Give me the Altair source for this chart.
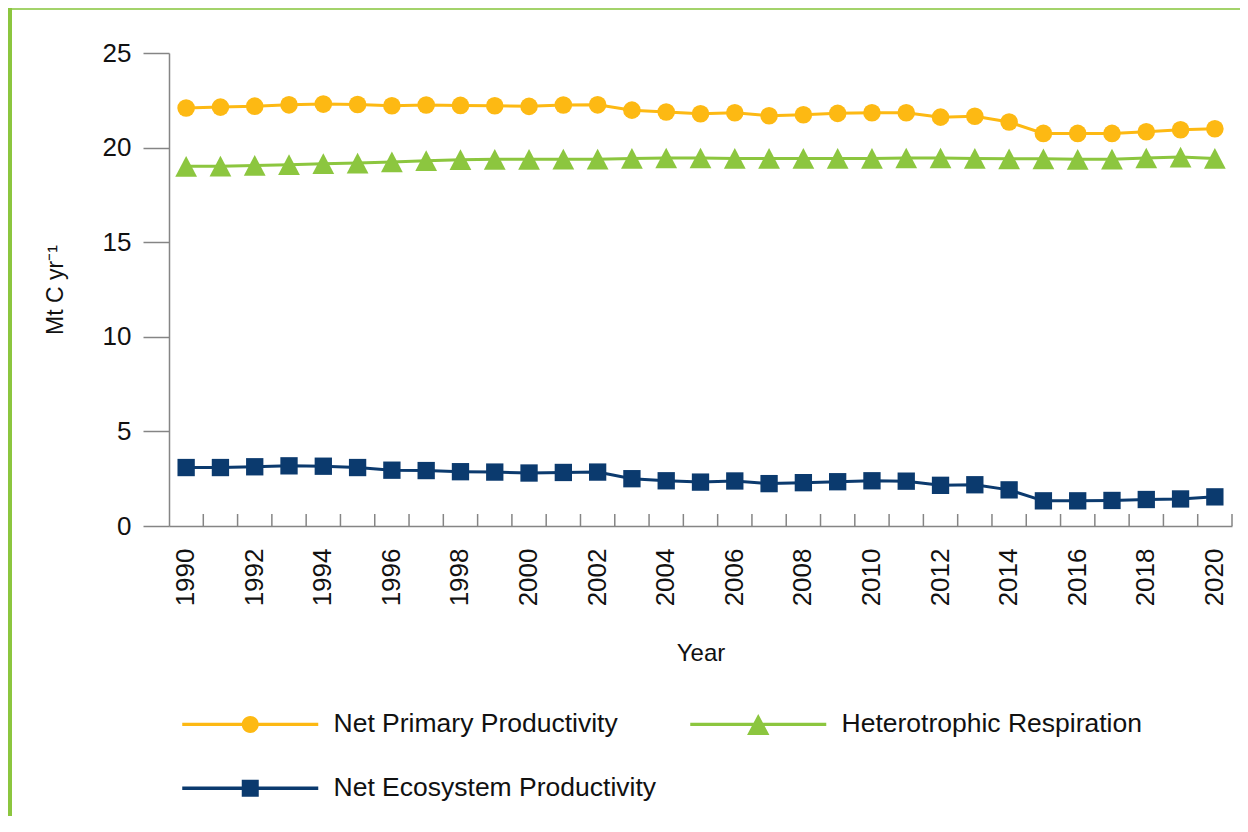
import altair as alt
import pandas as pd

years = list(range(1990, 2021))
series = ["Net Primary Productivity", "Heterotrophic Respiration", "Net Ecosystem Productivity"]
colors = ["#FDB913", "#8CC63F", "#0B3A6E"]
shapes = ["circle", "M0,-1L1.05,1H-1.05Z", "square"]
marker_sizes = [310, 430, 300]

npp = [22.09, 22.14, 22.19, 22.26, 22.30, 22.28, 22.21, 22.25, 22.23, 22.21, 22.18,
       22.25, 22.26, 21.98, 21.88, 21.79, 21.84, 21.68, 21.74, 21.81, 21.84, 21.84,
       21.61, 21.66, 21.35, 20.75, 20.75, 20.75, 20.84, 20.94, 21.00]
hr = [19.01, 19.02, 19.06, 19.10, 19.15, 19.18, 19.24, 19.31, 19.36, 19.38, 19.38,
      19.39, 19.39, 19.43, 19.45, 19.45, 19.43, 19.43, 19.43, 19.43, 19.43, 19.45,
      19.45, 19.43, 19.41, 19.41, 19.38, 19.39, 19.45, 19.50, 19.43]
nep = [3.09, 3.09, 3.13, 3.18, 3.16, 3.09, 2.95, 2.93, 2.87, 2.85, 2.80,
       2.83, 2.85, 2.50, 2.39, 2.32, 2.38, 2.24, 2.29, 2.34, 2.39, 2.37,
       2.15, 2.18, 1.91, 1.33, 1.33, 1.35, 1.40, 1.43, 1.54]
y_ticks = [0, 5, 10, 15, 20, 25]
x_label_years = [y for y in years if y % 2 == 0]

rows = []
for name, vals in zip(series, [npp, hr, nep]):
    for yr, v in zip(years, vals):
        rows.append({"Year": yr, "Series": name, "Value": v})
df = pd.DataFrame(rows)

W, H = 1063, 473
AXIS_GRAY = "#858585"
FONT = "Liberation Sans"

color_scale = alt.Scale(domain=series, range=colors)

x_enc = alt.X("Year:O", bandPosition=0.5,
              scale=alt.Scale(type="band", paddingInner=0, paddingOuter=0),
              axis=alt.Axis(values=x_label_years, labelAngle=-90, ticks=False,
                            labelPadding=22, labelFontSize=26, title="Year",
                            titleFontSize=24, titleFontWeight="normal", titlePadding=36,
                            domainColor=AXIS_GRAY, domainWidth=1.5, grid=False))
y_enc = alt.Y("Value:Q", scale=alt.Scale(domain=[0, 25], nice=False),
              axis=alt.Axis(values=y_ticks, tickSize=26, tickColor=AXIS_GRAY, tickWidth=1.5,
                            domainColor=AXIS_GRAY, domainWidth=1.5, labelFontSize=26,
                            labelPadding=12, grid=False, title="Mt C yr\u207b\u00b9",
                            titleFontSize=23, titleFontWeight="normal", titlePadding=35))

lines = alt.Chart(df).mark_line(strokeWidth=3).encode(
    x=x_enc, y=y_enc,
    color=alt.Color("Series:N", scale=color_scale, legend=None),
    detail="Series:N",
)

point_layers = []
for name, col, shp, sz in zip(series, colors, shapes, marker_sizes):
    point_layers.append(
        alt.Chart(df).transform_filter(alt.datum.Series == name)
        .mark_point(filled=True, opacity=1, shape=shp, size=sz, color=col)
        .encode(x=x_enc, y=y_enc)
    )

line_part = "M-6.8,-0.17H6.8V0.17H-6.8Z"
leg_paths = [
    line_part + "M-0.85,0A0.85,0.85,0,1,1,0.85,0A0.85,0.85,0,1,1,-0.85,0Z",
    line_part + "M0,-1.05L1.12,1.05H-1.12Z",
    line_part + "M-0.85,-0.85H0.85V0.85H-0.85Z",
]
legend = alt.Legend(orient="none", legendX=68, legendY=658, direction="horizontal",
                    columns=2, title=None, symbolSize=400, symbolOpacity=1,
                    symbolStrokeWidth=0, labelOffset=70, labelFontSize=26.5,
                    labelColor="#111111", columnPadding=33, rowPadding=37,
                    padding=0, labelLimit=600)
leg = alt.Chart(df).mark_point(filled=True, opacity=1).encode(
    x=x_enc, y=y_enc,
    color=alt.Color("Series:N", scale=color_scale, legend=legend),
    shape=alt.Shape("Series:N", scale=alt.Scale(domain=series, range=leg_paths),
                    legend=legend),
).transform_filter("false")

tick_df = pd.DataFrame({"Year": years})
ticks = alt.Chart(tick_df).mark_rule(color=AXIS_GRAY, strokeWidth=1.5).encode(
    x=alt.X("Year:O", bandPosition=1,
            scale=alt.Scale(type="band", paddingInner=0, paddingOuter=0)),
    y=alt.value(H - 12), y2=alt.value(H),
)

one = pd.DataFrame({"a": [0]})
bar = alt.Chart(one).mark_rule(color="#8CC63F", strokeWidth=4).encode(
    x=alt.value(-159), y=alt.value(-45), y2=alt.value(763))
top = alt.Chart(one).mark_rule(color="#A3D36B", strokeWidth=2).encode(
    x=alt.value(-157), x2=alt.value(1071), y=alt.value(-44))

chart = alt.layer(bar, top, ticks, lines, *point_layers, leg).resolve_scale(
    color="independent", shape="independent"
).properties(
    width=W, height=H,
    autosize=alt.AutoSizeParams(type="none"),
    padding={"left": 161, "top": 45, "right": 8, "bottom": 290},
).configure(font=FONT).configure_view(stroke=None).configure_axis(
    labelColor="#111111", titleColor="#111111", labelFont=FONT, titleFont=FONT
).configure_legend(labelFont=FONT)

chart.save("out.html", embed_options={"renderer": "svg", "actions": False})
